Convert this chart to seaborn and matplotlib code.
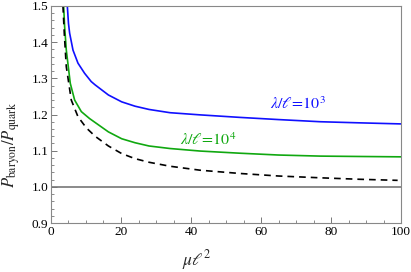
import matplotlib
matplotlib.use("Agg")
import matplotlib.pyplot as plt
from matplotlib.ticker import MultipleLocator, FormatStrFormatter
import seaborn as sns
import pandas as pd

# values
mu_blue = [4.67, 5.0, 5.33, 6.29, 7.71, 9.6, 11.5, 12.6, 16.4, 20.2, 24, 28, 34, 42.6, 54,
           65, 77, 88, 100]
p_blue = [1.5, 1.452, 1.425, 1.378, 1.342, 1.314, 1.291, 1.282, 1.254, 1.235, 1.223, 1.214,
          1.205, 1.199, 1.192, 1.186, 1.180, 1.177, 1.174]

mu_green = [3.62, 3.9, 4.38, 5.52, 6.76, 8.67, 11.0, 12.6, 16.4, 20.2, 24, 28, 34, 42.6, 54,
            65, 77, 88, 100]
p_green = [1.5, 1.443, 1.378, 1.286, 1.24, 1.208, 1.189, 1.178, 1.152, 1.133, 1.122, 1.113,
           1.106, 1.099, 1.093, 1.088, 1.085, 1.084, 1.083]

mu_dash = [3.43, 3.8, 4.38, 5.8, 7.71, 10.1, 12.6, 16.4, 20.2, 24, 28, 34, 42.6, 54, 65, 77,
           88, 99]
p_dash = [1.5, 1.425, 1.332, 1.24, 1.194, 1.163, 1.140, 1.113, 1.092, 1.078, 1.068, 1.057,
          1.046, 1.037, 1.030, 1.025, 1.021, 1.018]

sns.set_style("ticks")
plt.rcParams.update(
    {
        "font.family": ["Liberation Serif", "DejaVu Serif"],
        "mathtext.fontset": "stix",
        "font.size": 9,
        "xtick.direction": "in",
        "ytick.direction": "in",
        "xtick.color": "#777777",
        "ytick.color": "#777777",
        "xtick.labelcolor": "black",
        "ytick.labelcolor": "black",
        "axes.edgecolor": "#888888",
        "axes.linewidth": 0.8,
    }
)

fig = plt.figure(figsize=(4.11, 2.72), dpi=100)
ax = fig.add_axes([0.124, 0.18, 0.852, 0.798])

df_blue = pd.DataFrame({"mu": mu_blue, "p": p_blue})
df_green = pd.DataFrame({"mu": mu_green, "p": p_green})
df_dash = pd.DataFrame({"mu": mu_dash, "p": p_dash})

ax.axhline(1.0, color="#777777", linewidth=1.2, zorder=1)
sns.lineplot(data=df_blue, x="mu", y="p", color="#1010ff", linewidth=1.2, ax=ax)
sns.lineplot(data=df_green, x="mu", y="p", color="#10a810", linewidth=1.2, ax=ax)
sns.lineplot(data=df_dash, x="mu", y="p", color="black", linewidth=1.2,
             linestyle=(0, (4, 3)), ax=ax)

ax.text(70.6, 1.226, r"$\lambda/\ell\!=\!10^3$", color="#1010ff", fontsize=11.5,
        ha="center", va="center")
ax.text(44.8, 1.127, r"$\lambda/\ell\!=\!10^4$", color="#10a810", fontsize=11.5,
        ha="center", va="center")

ax.set_xlim(0, 100)
ax.set_ylim(0.9, 1.5)
ax.xaxis.set_major_locator(MultipleLocator(20))
ax.xaxis.set_minor_locator(MultipleLocator(5))
ax.yaxis.set_major_locator(MultipleLocator(0.1))
ax.yaxis.set_minor_locator(MultipleLocator(0.02))
ax.yaxis.set_major_formatter(FormatStrFormatter("%.1f"))
ax.tick_params(which="major", length=4, width=0.7, labelsize=9.5, pad=2)
ax.tick_params(which="minor", length=2, width=0.6)

ax.set_xlabel(r"$\mu\ell^2$", fontsize=12.5)
ax.set_ylabel(r"$P_{\mathrm{baryon}}/P_{\mathrm{quark}}$", fontsize=12)
ax.xaxis.set_label_coords(0.417, -0.115)
ax.yaxis.set_label_coords(-0.083, 0.36)

fig.savefig("out.png", dpi=100)
